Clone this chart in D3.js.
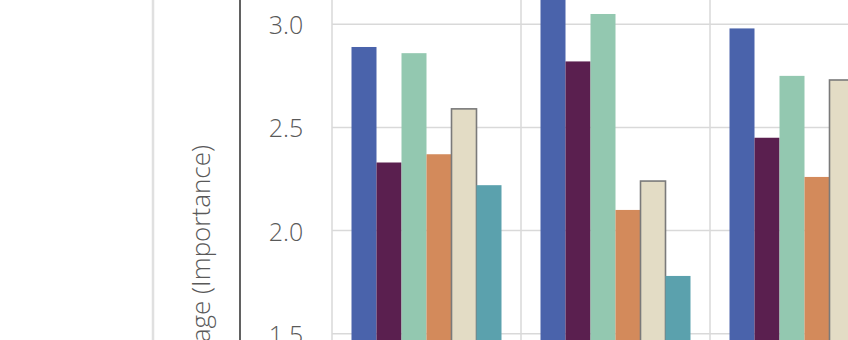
<!DOCTYPE html>
<html>
<head>
<meta charset="utf-8">
<script src="https://cdn.jsdelivr.net/npm/d3@7"></script>
<style>
  html, body { margin: 0; padding: 0; background: #fff; overflow: hidden; }
  svg { display: block; }
</style>
</head>
<body>
<svg id="chart" width="848" height="340"></svg>
<script>
// Grouped bar chart: importance averages per category, six series each
const categories = ["Group A", "Group B", "Group C"];
const seriesNames = ["Series 1", "Series 2", "Series 3", "Series 4", "Series 5", "Series 6"];
const series1 = [2.89, 3.15, 2.98];
const series2 = [2.33, 2.82, 2.45];
const series3 = [2.86, 3.05, 2.75];
const series4 = [2.37, 2.10, 2.26];
const series5 = [2.59, 2.24, 2.73];
const series6 = [2.22, 1.78, 2.40];
const yTicks = [1.5, 2.0, 2.5, 3.0];
const yTitle = "Average (Importance)";

const colors = ["#4a63ab", "#5a1f4f", "#93c8b0", "#d38a5b", "#e3dcc5", "#5ba1ad"];
const allSeries = [series1, series2, series3, series4, series5, series6];

const svg = d3.select("#chart");
const W = 848, H = 340;

// plot region
const plotLeft = 332;
const step = 189;

const x0 = d3.scaleBand()
  .domain(categories)
  .range([plotLeft, plotLeft + step * categories.length])
  .paddingInner(39 / 189)
  .paddingOuter(19.5 / 189);

const x1 = d3.scaleBand()
  .domain(seriesNames)
  .range([0, x0.bandwidth()]);

const y = d3.scaleLinear()
  .domain([1.5, 3.0])
  .range([333.7, 24.3]);

// left panel border
svg.append("line")
  .attr("x1", 153).attr("x2", 153)
  .attr("y1", 0).attr("y2", H)
  .attr("stroke", "#e0e0e0").attr("stroke-width", 2.5);

// horizontal gridlines
svg.append("g")
  .selectAll("line")
  .data(yTicks)
  .join("line")
  .attr("x1", plotLeft).attr("x2", W)
  .attr("y1", d => y(d)).attr("y2", d => y(d))
  .attr("stroke", "#d9d9d9").attr("stroke-width", 1.5);

// vertical gridlines at category boundaries
const bounds = categories.map(c => x0(c) - x0.step() * x0.paddingOuter());
svg.append("g")
  .selectAll("line")
  .data(bounds.concat([bounds[bounds.length - 1] + step]))
  .join("line")
  .attr("x1", d => d).attr("x2", d => d)
  .attr("y1", 0).attr("y2", H)
  .attr("stroke", "#d9d9d9").attr("stroke-width", 1.5);

// axis line
svg.append("line")
  .attr("x1", 240).attr("x2", 240)
  .attr("y1", 0).attr("y2", H)
  .attr("stroke", "#3a3a3a").attr("stroke-width", 1.6);

// tick labels
svg.append("g")
  .selectAll("text")
  .data(yTicks)
  .join("text")
  .attr("x", 286)
  .attr("y", d => y(d))
  .attr("text-anchor", "middle")
  .attr("dominant-baseline", "central")
  .attr("font-family", "'Open Sans', sans-serif")
  .attr("font-weight", 300)
  .attr("font-size", 25)
  .attr("fill", "#595959")
  .text(d => d3.format(".1f")(d));

// axis title, anchored at its end so the visible part sits at the top
svg.append("text")
  .attr("transform", "translate(210, 145) rotate(-90)")
  .attr("text-anchor", "end")
  .attr("font-family", "'Open Sans', sans-serif")
  .attr("font-weight", 300)
  .attr("font-size", 26)
  .attr("fill", "#595959")
  .text(yTitle);

// bars
const groups = svg.append("g")
  .selectAll("g")
  .data(categories)
  .join("g")
  .attr("transform", c => `translate(${x0(c)},0)`);

groups.selectAll("rect")
  .data((c, ci) => seriesNames.map((s, si) => ({ s, si, v: allSeries[si][ci] })))
  .join("rect")
  .attr("x", d => x1(d.s))
  .attr("y", d => y(d.v))
  .attr("width", x1.bandwidth())
  .attr("height", d => y(1.0) - y(d.v))
  .attr("fill", d => colors[d.si])
  .attr("stroke", d => d.si === 4 ? "#7a7a7a" : "none")
  .attr("stroke-width", d => d.si === 4 ? 1.6 : 0);
</script>
</body>
</html>
